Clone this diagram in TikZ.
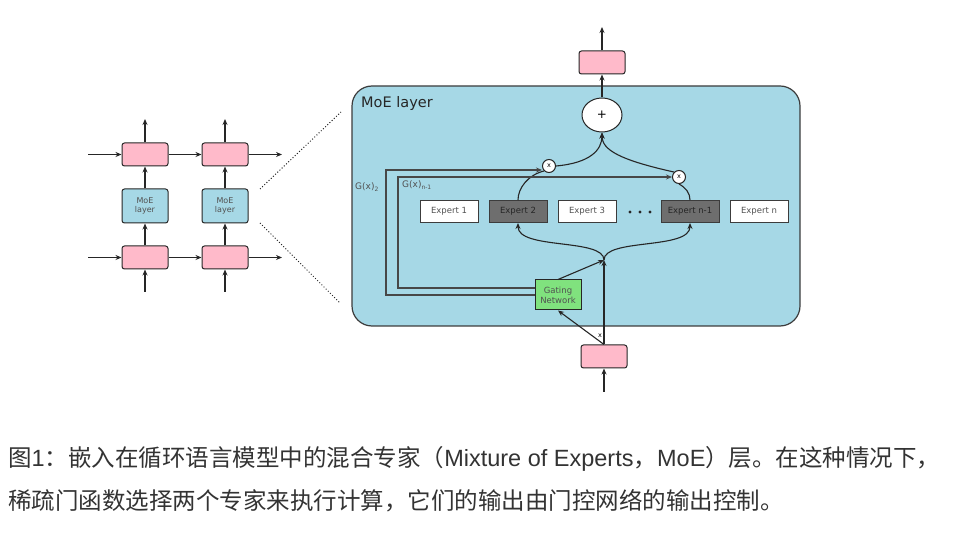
\documentclass[tikz,border=0pt]{standalone}
\usepackage{fontspec}
\setmainfont{Liberation Sans}
\newfontfamily\cjk{Noto Sans CJK SC}
\newfontfamily\dvs{DejaVu Sans}
\usetikzlibrary{arrows.meta,shapes.geometric}
\definecolor{moeblue}{HTML}{A6D8E6}
\definecolor{pinkbox}{HTML}{FFBACA}
\definecolor{gatinggreen}{HTML}{80E27E}
\definecolor{darkexp}{HTML}{6E6E6E}
\definecolor{linec}{HTML}{262626}
\definecolor{captc}{HTML}{333333}
\tikzset{
  x=1pt,y=-1pt,
  arr/.style={-{Stealth[length=6pt,width=5pt]},line width=1.1pt,draw=linec},
  ln/.style={line width=1.1pt,draw=linec},
  gline/.style={-{Stealth[length=6pt,width=5pt]},line width=1.6pt,draw=linec!85},
  pinkb/.style={draw=linec,line width=1pt,fill=pinkbox,rounded corners=2.5pt,minimum width=46pt,minimum height=23pt,inner sep=0pt},
  moeb/.style={draw=linec,line width=1pt,fill=moeblue,rounded corners=2.5pt,minimum width=46pt,minimum height=34pt,inner sep=0pt,align=center,font=\dvs\fontsize{8}{9.5}\selectfont,text=linec!80},
  expb/.style={draw=linec!90,line width=1pt,fill=white,minimum width=58pt,minimum height=22pt,inner sep=0pt,font=\dvs\fontsize{8.5}{9}\selectfont,text=linec!80},
  expd/.style={expb,fill=darkexp,text=linec},
  timesc/.style={circle,draw=linec,line width=1pt,fill=white,minimum size=13pt,inner sep=0pt,font=\dvs\fontsize{6.5}{6.5}\selectfont},
  dotc/.style={circle,fill=linec,minimum size=3.4pt,inner sep=0pt},
  capt/.style={anchor=base west,inner sep=0pt,text=captc,font=\fontsize{23.5}{28}\selectfont},
}
\begin{document}
\begin{tikzpicture}
\useasboundingbox (0,0) rectangle (959,534);
% ---------- left part ----------
\node[pinkb] (p11) at (145,154.5) {};
\node[pinkb] (p12) at (225,154.5) {};
\node[moeb] (m1) at (145,206) {MoE\\layer};
\node[moeb] (m2) at (225,206) {MoE\\layer};
\node[pinkb] (p21) at (145,257.5) {};
\node[pinkb] (p22) at (225,257.5) {};
\coordinate (lin1) at (88,154.5);
\coordinate (lout1) at (282,154.5);
\coordinate (lin2) at (88,257.5);
\coordinate (lout2) at (282,257.5);
\coordinate (lb1) at (145,292);
\coordinate (lb2) at (225,292);
\coordinate (lt1) at (145,119);
\coordinate (lt2) at (225,119);
\draw[arr] (lin1) -- (p11.west);
\draw[arr] (p11.east) -- (p12.west);
\draw[arr] (p12.east) -- (lout1);
\draw[arr] (lin2) -- (p21.west);
\draw[arr] (p21.east) -- (p22.west);
\draw[arr] (p22.east) -- (lout2);
\foreach \i in {1,2}{
  \draw[arr] (lb\i) -- (p2\i.south);
  \draw[arr] (p2\i.north) -- (m\i.south);
  \draw[arr] (m\i.north) -- (p1\i.south);
  \draw[arr] (p1\i.north) -- (lt\i);
}
% dotted zoom lines
\coordinate (d1a) at (260,189);
\coordinate (d1b) at (341,112);
\coordinate (d2a) at (260,223);
\coordinate (d2b) at (340,303);
\draw[dotted,line width=1pt,linec] (d1a) -- (d1b);
\draw[dotted,line width=1pt,linec] (d2a) -- (d2b);
% ---------- MoE layer ----------
\node[draw=linec!90,line width=1.2pt,fill=moeblue,rounded corners=20pt,minimum width=448pt,minimum height=240pt,inner sep=0pt] (moe) at (576,206) {};
\node[anchor=base west,inner sep=0pt,font=\dvs\fontsize{14.5}{16}\selectfont,text=linec] (moelab) at (361,108) {MoE layer};
% top output
\node[pinkb] (pout) at (602,62.5) {};
\coordinate (topout) at (602,27);
\draw[arr] (pout.north) -- (topout);
\node[ellipse,draw=linec,line width=1pt,fill=white,minimum width=40pt,minimum height=34pt,inner sep=0pt,font=\dvs\fontsize{12}{12}\selectfont] (plus) at (602,115) {+};
\draw[arr] (plus.north) -- (pout.south);
% experts
\node[expb] (e1) at (449,211.5) {Expert 1};
\node[expd] (e2) at (518,211.5) {Expert 2};
\node[expb] (e3) at (587,211.5) {Expert 3};
\node[dotc] (dt1) at (630,212) {};
\node[dotc] (dt2) at (640,212) {};
\node[dotc] (dt3) at (650,212) {};
\node[expd] (en1) at (690,211.5) {Expert n-1};
\node[expb] (en) at (759,211.5) {Expert n};
% times circles
\node[timesc] (x1) at (549,166) {x};
\node[timesc] (x2) at (679,177) {x};
% gating
\node[draw=linec,line width=1pt,fill=gatinggreen,minimum width=46pt,minimum height=30pt,inner sep=0pt,align=center,font=\dvs\fontsize{8.5}{10}\selectfont,text=linec!80] (gate) at (558,295) {Gating\\Network};
% bottom input
\node[pinkb] (pin) at (604,356.5) {};
\coordinate (botin) at (604,392);
\draw[arr] (botin) -- (pin.south);
\coordinate (split) at (604,260);
\draw[arr] (pin.north) -- (split);
\draw[arr] (pin.north) -- (gate.south);
\node[inner sep=0pt,font=\dvs\fontsize{6.5}{6.5}\selectfont] (xlab) at (600,336) {x};
\draw[arr] (gate.north) -- (split);
% dispatch curves
\draw[arr] (split) .. controls (604,238) and (518,250) .. (e2.south);
\draw[arr] (split) .. controls (604,238) and (690,250) .. (en1.south);
% expert outputs to multipliers
\draw[ln] (e2.north) .. controls (518,188) and (528,175) .. (x1.south west);
\draw[ln] (en1.north) .. controls (690,193) and (686,188) .. (x2.south);
% gating weights
\coordinate (g2a) at (386,295);
\coordinate (g2b) at (386,170);
\coordinate (gna) at (398,288);
\coordinate (gnb) at (398,177);
\draw[gline] (gate.west |- g2a) -- (g2a) -- (g2b) -- (x1.west |- g2b);
\draw[gline] (gate.west |- gna) -- (gna) -- (gnb) -- (x2.west |- gnb);
\node[anchor=base west,inner sep=0pt,font=\dvs\fontsize{9}{10}\selectfont,text=linec!80] (g2lab) at (355,190) {G(x)\textsubscript{2}};
\node[anchor=base west,inner sep=0pt,font=\dvs\fontsize{9}{10}\selectfont,text=linec!80] (gnlab) at (402,188) {G(x)\textsubscript{n-1}};
% combine
\draw[arr] (x1.east) .. controls (590,163) and (602,150) .. (plus.south);
\draw[arr] (x2.north west) .. controls (620,160) and (602,150) .. (plus.south);
% ---------- caption ----------
\node[capt] (cap1) at (8,467) {{\cjk 图}1{\cjk ：嵌入在循环语言模型中的混合专家（}Mixture of Experts{\cjk ，}MoE{\cjk ）层。在这种情况下，}};
\node[capt] (cap2) at (8,509) {{\cjk 稀疏门函数选择两个专家来执行计算，它们的输出由门控网络的输出控制。}};
\end{tikzpicture}
\end{document}
